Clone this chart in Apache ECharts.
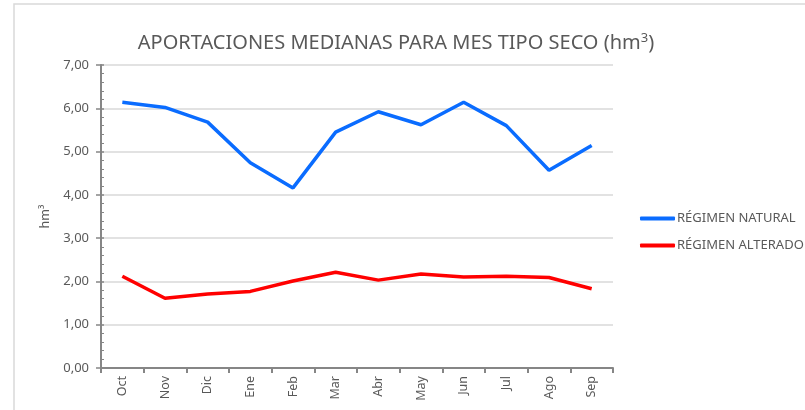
<!DOCTYPE html>
<html>
<head>
<meta charset="utf-8">
<script src="https://cdn.jsdelivr.net/npm/echarts@6/dist/echarts.min.js"></script>
<style>
  html, body { margin: 0; padding: 0; background: #fff; }
  #main { width: 805px; height: 410px; }
</style>
</head>
<body>
<div id="main"></div>
<script>
// datos
var meses = ['Oct', 'Nov', 'Dic', 'Ene', 'Feb', 'Mar', 'Abr', 'May', 'Jun', 'Jul', 'Ago', 'Sep'];
var regimenNatural = [6.14, 6.02, 5.68, 4.74, 4.16, 5.45, 5.92, 5.62, 6.14, 5.60, 4.57, 5.14];
var regimenAlterado = [2.12, 1.61, 1.71, 1.77, 2.01, 2.21, 2.03, 2.17, 2.10, 2.12, 2.09, 1.83];
var nombreNatural = 'RÉGIMEN NATURAL';
var nombreAlterado = 'RÉGIMEN ALTERADO';

var gris = '#595959';
var fuente = '"Noto Sans", sans-serif';

var myChart = echarts.init(document.getElementById('main'));

var option = {
	animation: false,
	textStyle: { fontFamily: fuente },
	graphic: [{
		type: 'rect',
		shape: { x: 14, y: 4, width: 900, height: 500 },
		style: { fill: 'none', stroke: '#d9d9d9', lineWidth: 1.5 },
		silent: true
	}],
	title: {
		text: 'APORTACIONES MEDIANAS PARA MES TIPO SECO (hm{sup|3})',
		left: 391,
		textAlign: 'center',
		top: 27,
		textStyle: {
			fontFamily: fuente,
			fontSize: 20,
			fontWeight: 'normal',
			color: gris,
			rich: {
				sup: { fontSize: 13, color: gris, verticalAlign: 'top', padding: [0, 0, 9, 0] }
			}
		}
	},
	legend: {
		orient: 'vertical',
		left: 635,
		top: 206,
		itemWidth: 35,
		itemHeight: 4,
		itemGap: 12,
		icon: 'roundRect',
		textStyle: { color: gris, fontSize: 13, lineHeight: 15, fontFamily: fuente, padding: [0, 0, 0, -3] },
		data: [nombreNatural, nombreAlterado]
	},
	grid: { left: 101, right: 192, top: 65, bottom: 42, containLabel: false },
	xAxis: {
		type: 'category',
		data: meses,
		boundaryGap: true,
		axisLine: { lineStyle: { color: '#868686', width: 2 } },
		axisTick: { show: true, length: 5, lineStyle: { color: '#868686', width: 2 } },
		axisLabel: { rotate: 90, color: gris, fontSize: 12.5, margin: 8 },
		splitLine: { show: false }
	},
	yAxis: [{
		type: 'value',
		position: 'left',
		min: 0,
		max: 7,
		interval: 1,
		name: 'hm³',
		nameLocation: 'middle',
		nameGap: 48,
		nameTextStyle: { color: gris, fontSize: 12.5 },
		axisLine: { show: true, lineStyle: { color: '#868686', width: 2 } },
		axisTick: { show: true, length: 5, lineStyle: { color: '#868686', width: 1.5 } },
		axisLabel: {
			color: gris,
			fontSize: 13,
			margin: 12,
			formatter: function (v) { return v.toFixed(2).replace('.', ','); }
		},
		splitLine: { show: true, lineStyle: { color: '#d9d9d9', width: 1.5 } }
	}, {
		// eje superpuesto solo para las marcas interiores
		type: 'value',
		position: 'left',
		min: 0,
		max: 7,
		interval: 1,
		axisLine: { show: false },
		axisTick: { show: true, inside: true, length: 3, lineStyle: { color: '#868686', width: 1.5 } },
		minorTick: { show: true, splitNumber: 5, length: 3, lineStyle: { color: '#868686', width: 1 } },
		axisLabel: { show: false },
		splitLine: { show: false }
	}],
	series: [{
		name: nombreNatural,
		type: 'line',
		data: regimenNatural,
		symbol: 'none',
		color: '#0A6CFF',
		lineStyle: { width: 3.5, color: '#0A6CFF' }
	}, {
		name: nombreAlterado,
		type: 'line',
		data: regimenAlterado,
		symbol: 'none',
		color: '#FF0000',
		lineStyle: { width: 3.5, color: '#FF0000' }
	}]
};

myChart.setOption(option);
window.onresize = function () {
	myChart.resize();
};
</script>
</body>
</html>
